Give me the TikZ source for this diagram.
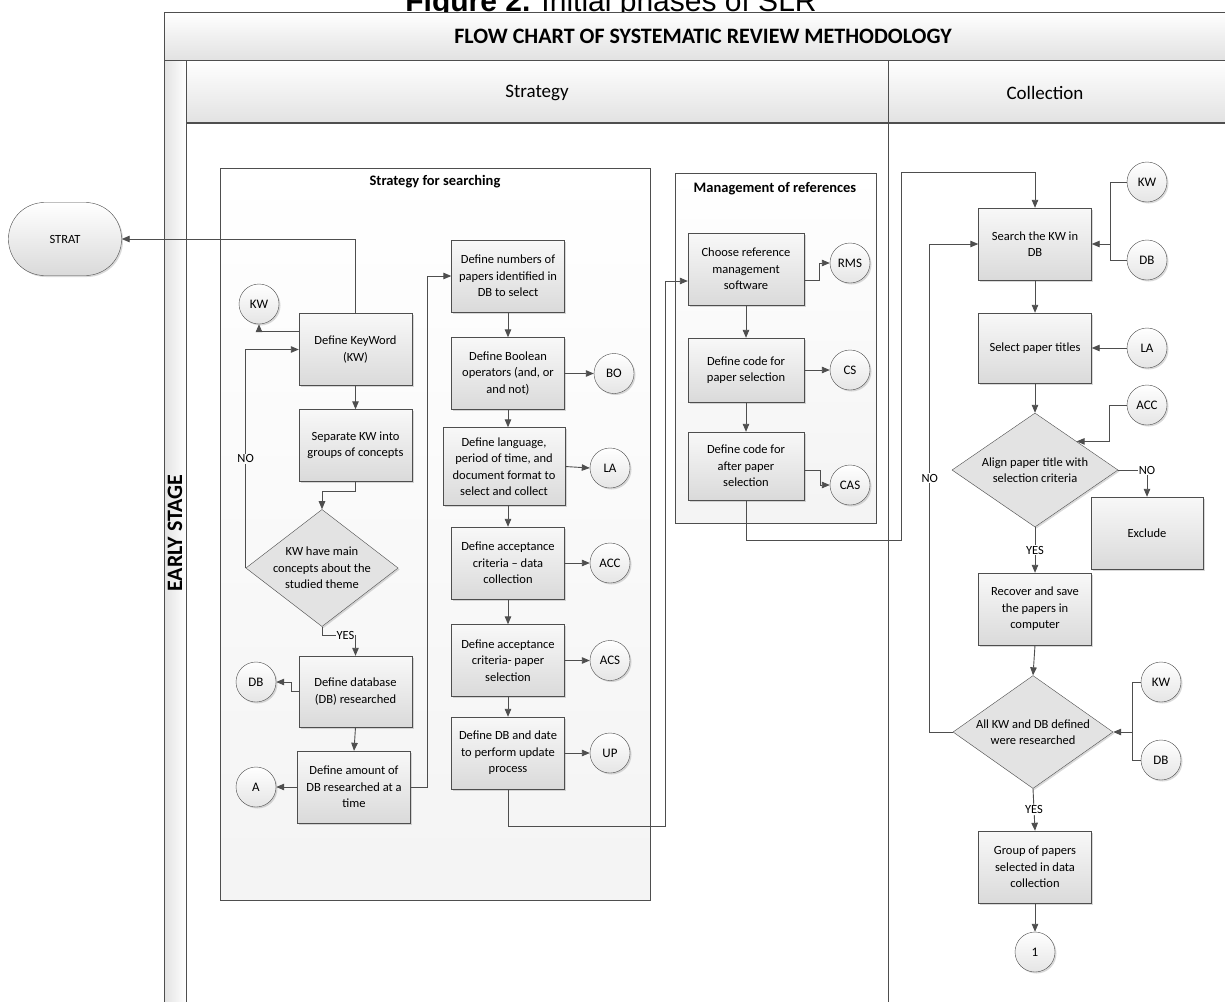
\documentclass[tikz,border=0pt]{standalone}
\usepackage{fontspec}
\setmainfont{Carlito}
\newfontfamily\capfont{Liberation Sans}
\usepackage{tikz}
\usetikzlibrary{arrows.meta, positioning, calc, shapes, shadows}
\usepackage{xcolor}
\definecolor{edgegray}{RGB}{78,78,78}
\definecolor{boxtop}{RGB}{248,248,248}
\definecolor{boxbot}{RGB}{218,218,218}
\definecolor{hdrbot}{RGB}{226,226,226}

\tikzset{
  softshadow/.style={drop shadow={shadow xshift=1.5pt, shadow yshift=-1.5pt, opacity=0.3}},
  procbox/.style={rectangle, draw=edgegray, top color=boxtop, bottom color=boxbot,
    minimum width=113, minimum height=72, align=center, inner sep=2pt,
    font=\fontsize{12.5}{16.5}\selectfont, softshadow},
  conncirc/.style={circle, draw=edgegray, top color=white, bottom color=boxbot!70,
    minimum size=40, inner sep=0pt, font=\fontsize{13}{14}\selectfont, softshadow},
  decbox/.style={diamond, draw=edgegray, fill=boxbot!75, inner sep=0pt, aspect=1.3,
    align=center, font=\fontsize{12.5}{16.5}\selectfont, softshadow},
  termbox/.style={rectangle, rounded corners=36, draw=edgegray, top color=white,
    bottom color=boxbot, minimum width=113, minimum height=73,
    font=\fontsize{12.5}{14}\selectfont, softshadow},
  arr/.style={draw=edgegray, line width=0.9pt, -{Triangle[length=8pt,width=6.5pt]}},
  wire/.style={draw=edgegray, line width=0.9pt},
  lbl/.style={fill=white, inner sep=1pt, font=\fontsize{12.5}{14}\selectfont},
  cont/.style={draw=edgegray, top color=white, bottom color=gray!9},
  grouptitle/.style={font=\bfseries\fontsize{14.5}{16}\selectfont},
}

\begin{document}
\begin{tikzpicture}[x=1pt, y=-1pt]
  \useasboundingbox (0,0) rectangle (1225,1001);
  \clip (0,0) rectangle (1225,1001);

  % caption (cut at the top)
  \node[anchor=base, inner sep=0pt, font=\capfont\fontsize{30}{32}\selectfont] (figcap)
    at (611,11) {\textbf{Figure 2.} Initial phases of SLR};

  % pool and lanes
  \draw[edgegray, top color=white, bottom color=hdrbot] (164,12) rectangle (1240,60);
  \node[font=\bfseries\fontsize{22}{24}\selectfont] (pooltitle) at (703,36)
    {FLOW CHART OF SYSTEMATIC REVIEW METHODOLOGY};
  \draw[edgegray, left color=hdrbot, right color=white] (164,60) rectangle (186,1010);
  \draw[edgegray, top color=white, bottom color=hdrbot] (186,60) rectangle (888,123);
  \draw[edgegray, top color=white, bottom color=hdrbot] (888,60) rectangle (1240,123);
  \draw[edgegray, line width=1.6pt] (186,123) -- (1240,123);
  \draw[edgegray] (888,123) -- (888,1010);
  \node[font=\fontsize{19}{21}\selectfont] (lanestrat) at (537,93) {Strategy};
  \node[font=\fontsize{19}{21}\selectfont] (lanecoll) at (1045,93) {Collection};
  \node[rotate=90, font=\bfseries\fontsize{22}{24}\selectfont] (phase) at (175,533) {EARLY STAGE};

  % group boxes
  \draw[cont] (220,168) rectangle (650,900);
  \node[grouptitle] (sstitle) at (435,182) {Strategy for searching};
  \draw[cont] (675,173) rectangle (876,523);
  \node[grouptitle] (mgtitle) at (775,189) {Management of references};

  % strategy for searching: left column
  \node[termbox] (strat) at (65,239) {STRAT};
  \node[conncirc] (kw1) at (259,304) {KW};
  \node[procbox] (defkw) at (355.5,349.5) {Define KeyWord\\(KW)};
  \node[procbox] (sepkw) at (355.5,445.5) {Separate KW into\\groups of concepts};
  \node[decbox, minimum width=138, minimum height=117] (dec1) at (322,568)
    {KW have main\\concepts about the\\studied theme};
  \node[procbox, minimum height=71] (defdb) at (355.5,691.5) {Define database\\(DB) researched};
  \node[conncirc] (db1) at (256,682) {DB};
  \node[procbox] (defamt) at (354,787) {Define amount of\\DB researched at a\\time};
  \node[conncirc] (acirc) at (256,787) {A};

  % strategy for searching: right column
  \node[procbox] (defnum) at (508,276) {Define numbers of\\papers identified in\\DB to select};
  \node[procbox] (defbool) at (508,373.5) {Define Boolean\\operators (and, or\\and not)};
  \node[conncirc] (bo) at (614,373.5) {BO};
  \node[procbox, minimum width=122, minimum height=78] (deflang) at (504,466.5)
    {Define language,\\period of time, and\\document format to\\select and collect};
  \node[conncirc] (la1) at (610,468) {LA};
  \node[procbox] (defacc) at (508,563) {Define acceptance\\criteria -- data\\collection};
  \node[conncirc] (acc1) at (610,563) {ACC};
  \node[procbox] (defacs) at (508,660.5) {Define acceptance\\criteria- paper\\selection};
  \node[conncirc] (acs) at (610,660.5) {ACS};
  \node[procbox] (defup) at (508,753) {Define DB and date\\to perform update\\process};
  \node[conncirc] (up) at (610,753) {UP};

  % management of references
  \node[procbox, minimum width=116] (chref) at (746,269) {Choose reference\\management\\software};
  \node[conncirc] (rms) at (850,263) {RMS};
  \node[procbox, minimum width=116, minimum height=64] (codesel) at (746,370) {Define code for\\paper selection};
  \node[conncirc] (cs) at (850,370) {CS};
  \node[procbox, minimum width=116, minimum height=68] (codeaft) at (746,466) {Define code for\\after paper\\selection};
  \node[conncirc] (cas) at (850,485) {CAS};

  % collection
  \node[procbox] (search) at (1035,244) {Search the KW in\\DB};
  \node[conncirc] (kw2) at (1147,182) {KW};
  \node[conncirc] (db2) at (1147,260) {DB};
  \node[procbox, minimum height=70] (selt) at (1035,348) {Select paper titles};
  \node[conncirc] (la2) at (1147,348) {LA};
  \node[conncirc] (acc2) at (1147,405) {ACC};
  \node[decbox, minimum width=166, minimum height=114] (dec2) at (1035,470)
    {Align paper title with\\selection criteria};
  \node[procbox, minimum width=112] (excl) at (1147,533) {Exclude};
  \node[procbox] (recov) at (1035,609) {Recover and save\\the papers in\\computer};
  \node[decbox, minimum width=160, minimum height=108] (dec3) at (1033,732)
    {All KW and DB defined\\were researched};
  \node[conncirc] (kw3) at (1161,682) {KW};
  \node[conncirc] (db3) at (1161,760) {DB};
  \node[procbox] (group) at (1035,867) {Group of papers\\selected in data\\collection};
  \node[conncirc] (one) at (1035,952) {1};

  % junction points
  \coordinate (m1) at (665,826);
  \coordinate (c1) at (901,540);
  \coordinate (c2) at (901,172);
  \coordinate (j1) at (1110,244);
  \coordinate (j2) at (1132,732);

  % connectors, left column
  \draw[arr] (defkw.north) |- (strat.east);
  \draw[arr] ($(defkw.north west)!0.25!(defkw.south west)$) -| (kw1.south);
  \draw[arr] (dec1.west) |- node[lbl, pos=0.25, fill=gray!4] (no1) {NO} (defkw.west);
  \draw[arr] (defkw.south) -- (sepkw.north);
  \draw[arr] (sepkw.south) -- ++(0,10) -| (dec1.north);
  \draw[arr] (dec1.south) -- ++(0,9) -| node[lbl, pos=0.35, fill=gray!5] (yes1) {YES} (defdb.north);
  \draw[arr] (defdb.west) -- ++(-7,0) |- (db1.east);
  \draw[arr] (defdb.south) -- (defamt.north);
  \draw[arr] (defamt.west) -- (acirc.east);
  \draw[arr] (defamt.east) -- ++(17,0) |- (defnum.west);

  % connectors, right column
  \draw[arr] (defnum.south) -- (defbool.north);
  \draw[arr] (defbool.east) -- (bo.west);
  \draw[arr] (defbool.south) -- (defbool.south |- deflang.north);
  \draw[arr] (deflang.east) -- (la1.west);
  \draw[arr] (defacc.north |- deflang.south) -- (defacc.north);
  \draw[arr] (defacc.east) -- (acc1.west);
  \draw[arr] (defacc.south) -- (defacs.north);
  \draw[arr] (defacs.east) -- (acs.west);
  \draw[arr] (defacs.south) -- (defup.north);
  \draw[arr] (defup.east) -- (up.west);
  \draw[arr] (defup.south) |- (m1) |- ([yshift=-12pt]chref.west);

  % connectors, management
  \draw[arr] ([yshift=-11pt]chref.east) -- ++(15,0) |- (rms.west);
  \draw[arr] (chref.south) -- (codesel.north);
  \draw[arr] (codesel.east) -- (cs.west);
  \draw[arr] (codesel.south) -- (codeaft.north);
  \draw[arr] ([yshift=-4pt]codeaft.east) -- ++(16,0) |- (cas.west);
  \draw[arr] (codeaft.south) |- (c1) -- (c2) -| (search.north);

  % connectors, collection
  \draw[wire] (kw2.west) -| (j1) |- (db2.west);
  \draw[arr] (j1) -- (search.east);
  \draw[arr] (search.south) -- (selt.north);
  \draw[arr] (la2.west) -- (selt.east);
  \draw[arr] (selt.south) -- (dec2.north);
  \draw[arr] (acc2.west) -- ++(-17,0) |- (dec2.north east);
  \draw[arr] (dec2.east) -| node[lbl] (no2) {NO} (excl.north);
  \draw[arr] (dec2.south) -- node[lbl] (yes2) {YES} (recov.north);
  \draw[arr] (recov.south) -- (dec3.north);
  \draw[wire] (kw3.west) -| (j2) |- (db3.west);
  \draw[arr] (j2) -- (dec3.east);
  \draw[arr] (dec3.west) -- ++(-23,0) |- node[lbl, pos=0.26] (no3) {NO} (search.west);
  \draw[arr] (dec3.south) -- node[lbl] (yes3) {YES} (group.north);
  \draw[arr] (group.south) -- (one.north);
\end{tikzpicture}
\end{document}
